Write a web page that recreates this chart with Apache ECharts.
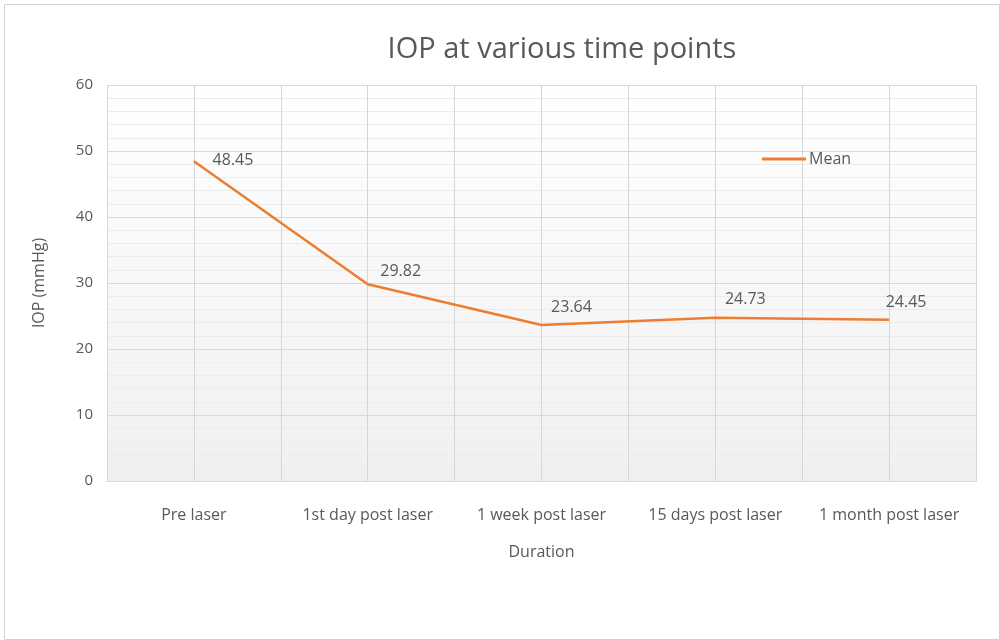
<!DOCTYPE html>
<html>
<head>
<meta charset="utf-8">
<script src="https://cdn.jsdelivr.net/npm/echarts@6/dist/echarts.min.js"></script>
<style>html,body{margin:0;padding:0;background:#fff}#c{width:1000px;height:640px}</style>
</head>
<body>
<div id="c"></div>
<script>
const categories = ['Pre laser', '1st day post laser', '1 week post laser', '15 days post laser', '1 month post laser'];
const meanValues = [48.45, 29.82, 23.64, 24.73, 24.45];
const yTicks = { min: 0, max: 60, interval: 10 };

const labelOffsets = [[39, 12], [33, 0], [30, -5], [30, -5], [17, -4]];
const FONT = 'Open Sans';
const TXT = '#595959';

const chart = echarts.init(document.getElementById('c'));
chart.setOption({
  animation: false,
  textStyle: { fontFamily: FONT },
  title: {
    text: 'IOP at various time points',
    left: 557, top: 30, textAlign: 'center',
    textStyle: { fontFamily: FONT, fontSize: 29, fontWeight: 'normal', color: TXT }
  },
  legend: {
    left: 757, top: 146,
    itemWidth: 44, itemHeight: 3, itemGap: 6,
    data: [{ name: 'Mean', icon: 'rect' }],
    textStyle: { fontFamily: FONT, fontSize: 16, color: TXT, padding: [0, 0, 0, -2] }
  },
  graphic: [{
    type: 'rect', left: 2, top: 2, z: -1,
    shape: { width: 995, height: 635 },
    style: { fill: 'none', stroke: '#d0d0d0', lineWidth: 1 }
  }],
  grid: {
    left: 107, right: 24, top: 85, bottom: 159,
    show: true, borderWidth: 0,
    backgroundColor: new echarts.graphic.LinearGradient(0, 0, 0, 1, [
      { offset: 0, color: '#ffffff' }, { offset: 1, color: '#f0f0f0' }
    ])
  },
  xAxis: [{
    type: 'category', data: categories, boundaryGap: true,
    axisLine: { lineStyle: { color: '#d9d9d9', width: 1 } },
    axisTick: { show: false },
    splitLine: { show: false },
    axisLabel: { fontFamily: FONT, fontSize: 16, color: TXT, margin: 26, interval: 0, hideOverlap: false },
    name: 'Duration', nameLocation: 'middle', nameGap: 63,
    nameTextStyle: { fontFamily: FONT, fontSize: 16, color: TXT }
  }, {
    type: 'value', min: 0, max: 10, interval: 1, position: 'bottom',
    axisLine: { show: false }, axisTick: { show: false }, axisLabel: { show: false },
    splitLine: { show: true, lineStyle: { color: '#d6d6d6', width: 1 } }
  }],
  yAxis: {
    type: 'value', min: yTicks.min, max: yTicks.max, interval: yTicks.interval,
    axisLine: { show: false }, axisTick: { show: false },
    axisLabel: { fontFamily: FONT, fontSize: 15, color: TXT, margin: 14 },
    splitLine: { lineStyle: { color: '#d9d9d9', width: 1 } },
    minorTick: { show: false, splitNumber: 5 },
    minorSplitLine: { show: true, lineStyle: { color: '#ececec', width: 1 } },
    name: 'IOP (mmHg)', nameLocation: 'middle', nameGap: 60, nameRotate: 90,
    nameTextStyle: { fontFamily: FONT, fontSize: 16, color: TXT }
  },
  series: [{
    name: 'Mean', type: 'line', xAxisIndex: 0,
    data: meanValues.map((v, i) => ({
      value: v,
      label: { offset: labelOffsets[i] }
    })),
    symbol: 'circle', symbolSize: 0, showSymbol: true,
    lineStyle: { color: '#ED7D31', width: 2.5 },
    itemStyle: { color: '#ED7D31' },
    label: {
      show: true, position: 'top', distance: 5,
      fontFamily: FONT, fontSize: 16, color: TXT,
      formatter: p => p.value.toFixed(2)
    }
  }]
});
</script>
</body>
</html>
